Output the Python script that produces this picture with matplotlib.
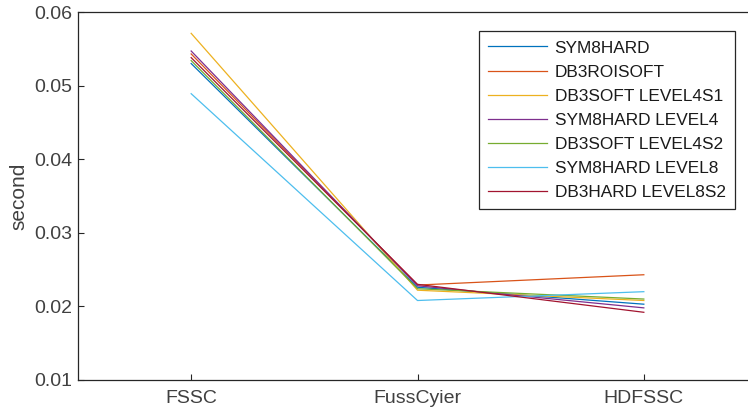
import numpy as np
import matplotlib.pyplot as plt

plt.rcParams['font.family'] = ['Liberation Sans', 'DejaVu Sans']

methods = ['FSSC', 'FussCyier', 'HDFSSC']
series_names = ['SYM8HARD', 'DB3ROISOFT', 'DB3SOFT LEVEL4S1', 'SYM8HARD LEVEL4',
                'DB3SOFT LEVEL4S2', 'SYM8HARD LEVEL8', 'DB3HARD LEVEL8S2']
sym8hard = [0.0530, 0.0226, 0.0203]
db3roisoft = [0.0543, 0.0229, 0.0243]
db3soft_l4s1 = [0.0571, 0.0222, 0.0208]
sym8hard_l4 = [0.0547, 0.0228, 0.0198]
db3soft_l4s2 = [0.0534, 0.0224, 0.0210]
sym8hard_l8 = [0.0489, 0.0208, 0.0220]
db3hard_l8s2 = [0.0538, 0.0230, 0.0192]
yticks = [0.01, 0.02, 0.03, 0.04, 0.05, 0.06]

all_series = [sym8hard, db3roisoft, db3soft_l4s1, sym8hard_l4,
              db3soft_l4s2, sym8hard_l8, db3hard_l8s2]
# MATLAB default line colours
colors = ['#0072BD', '#D95319', '#EDB120', '#7E2F8E', '#77AC30', '#4DBEEE', '#A2142F']

fig = plt.figure(figsize=(7.48, 4.13), dpi=100)
ax = fig.add_axes([78 / 748, 33 / 413, 679 / 748, 368 / 413])

x = np.arange(1, len(methods) + 1)
for name, vals, c in zip(series_names, all_series, colors):
    ax.plot(x, vals, color=c, lw=0.9, label=name)

ax.set_xlim(0.5, 3.5)
ax.set_ylim(0.01, 0.06)
ax.set_xticks(x)
ax.set_xticklabels(methods)
ax.set_yticks(yticks)
ax.set_yticklabels([f'{v:.2f}' for v in yticks])
ax.tick_params(direction='in', length=4, width=0.8, labelsize=14, colors='#262626',
               labelcolor='#404040', top=False, right=False, pad=4)
ax.tick_params(axis='x', pad=7)
ax.set_ylabel('second', fontsize=15, color='#404040', labelpad=4)
for s in ax.spines.values():
    s.set_color('#262626')
    s.set_linewidth(0.9)

leg = ax.legend(loc='upper right', bbox_to_anchor=(735 / 748, 1 - 31 / 413),
                bbox_transform=fig.transFigure, fontsize=12.4, frameon=True,
                fancybox=False, framealpha=1, edgecolor='#262626',
                handlelength=3.4, handletextpad=0.45, labelspacing=0.52,
                borderpad=0.55, borderaxespad=0)
leg.get_frame().set_linewidth(0.9)
for t in leg.get_texts():
    t.set_color('#1a1a1a')

fig.savefig('out.png', dpi=100)
